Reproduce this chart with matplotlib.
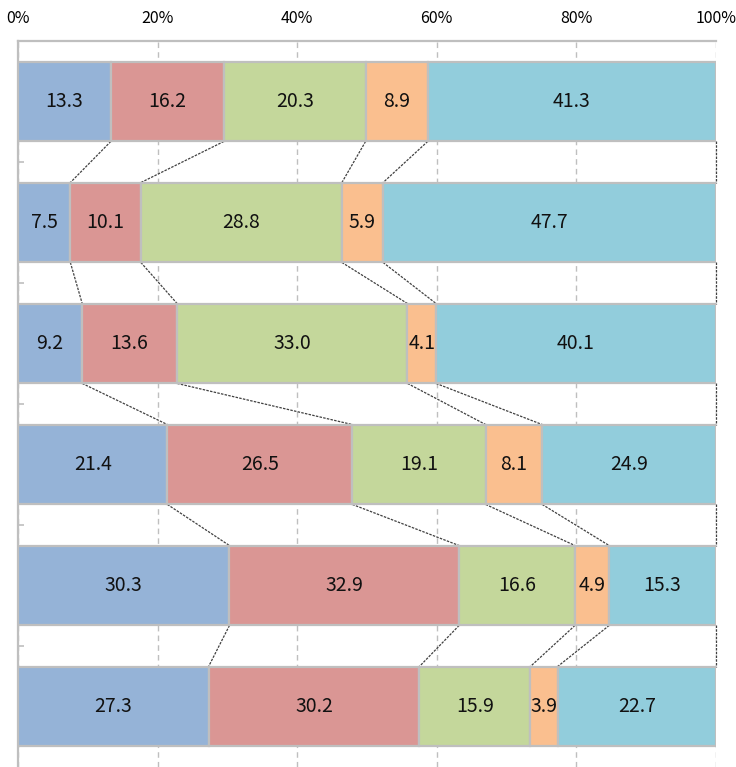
import matplotlib.pyplot as plt
import numpy as np

plt.rcParams['font.family'] = ['Noto Sans CJK JP', 'DejaVu Sans']

# shares per row (%), five segments each
seg_a = [13.3, 7.5, 9.2, 21.4, 30.3, 27.3]
seg_b = [16.2, 10.1, 13.6, 26.5, 32.9, 30.2]
seg_c = [20.3, 28.8, 33.0, 19.1, 16.6, 15.9]
seg_d = [8.9, 5.9, 4.1, 8.1, 4.9, 3.9]
seg_e = [41.3, 47.7, 40.1, 24.9, 15.3, 22.7]
colors = ['#95B3D7', '#DA9694', '#C4D79B', '#FABF8F', '#92CDDC']
xticks = [0, 20, 40, 60, 80, 100]

data = np.array([seg_a, seg_b, seg_c, seg_d, seg_e])
nrows = data.shape[1]
rows = np.arange(nrows)
h = 0.66

fig = plt.figure(figsize=(7.36, 7.67), dpi=100)
ax = fig.add_axes([18/736, 0.0, 698/736, 1 - 41/767])

left = np.zeros(nrows)
for vals, c in zip(data, colors):
    ax.barh(rows, vals, left=left, height=h, color=c, edgecolor='#BFBFBF', linewidth=1.6, zorder=3)
    for y, v, l in zip(rows, vals, left):
        ax.text(l + v / 2, y, f'{v:.1f}', ha='center', va='center', fontsize=14, color='#111111', zorder=4)
    left = left + vals

# series lines joining segment boundaries of neighbouring bars
cum = np.cumsum(data, axis=0)
for k in range(cum.shape[0]):
    for i in range(nrows - 1):
        ax.plot([cum[k, i], cum[k, i + 1]], [i + h / 2, i + 1 - h / 2],
                color='#404040', lw=0.9, ls=(0, (2, 1)), zorder=2, clip_on=False)

ax.set_xlim(0, 100)
ax.set_ylim(nrows - 0.5, -0.5)
ax.xaxis.tick_top()
ax.set_xticks(xticks)
ax.set_xticklabels([f'{t}%' for t in xticks], fontsize=11.5)
ax.tick_params(axis='x', length=0, pad=10)
ax.set_yticks(rows[:-1] + 0.5)
ax.set_yticklabels([])
ax.tick_params(axis='y', direction='in', length=4, color='#BFBFBF', width=1.2)
ax.grid(axis='x', color='#BFBFBF', ls=(0, (4, 3)), lw=1, zorder=1)
for s in ['right', 'bottom']:
    ax.spines[s].set_visible(False)
for s in ['top', 'left']:
    ax.spines[s].set_color('#BFBFBF')
    ax.spines[s].set_linewidth(1.6)

fig.savefig('out.png', dpi=100)
